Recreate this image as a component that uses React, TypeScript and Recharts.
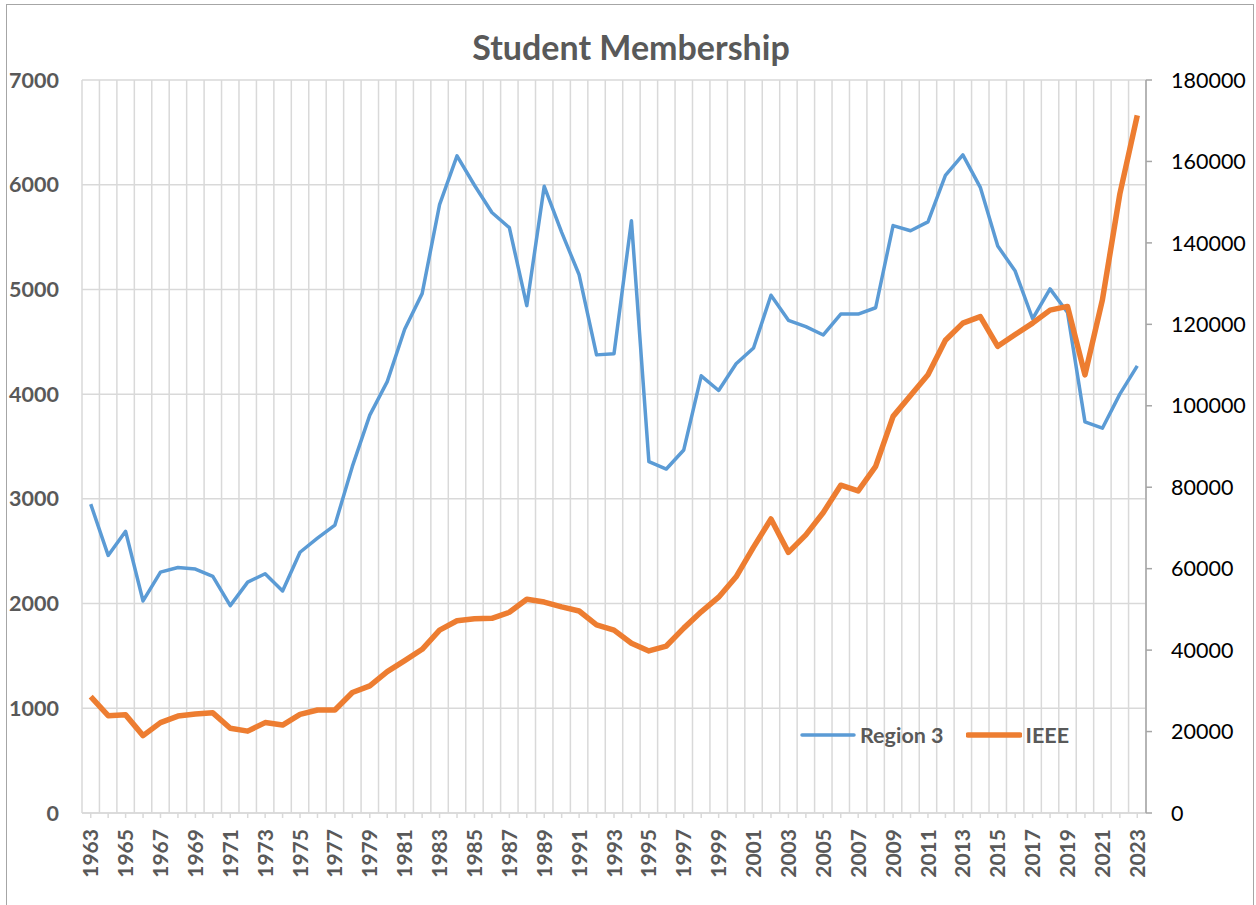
import React from "react";
import {
  LineChart,
  Line,
  XAxis,
  YAxis,
  CartesianGrid,
  Legend,
} from "recharts";

// years 1963..2023
const years = Array.from({ length: 61 }, (_, i) => 1963 + i);

const region3 = [
  2950, 2460, 2690, 2025, 2300, 2345, 2330, 2260, 1980, 2205, // 1963-1972
  2285, 2120, 2490, 2625, 2750, 3310, 3800, 4120, 4620, 4960, // 1973-1982
  5810, 6275, 5995, 5735, 5590, 4845, 5985, 5545, 5140, 4375, // 1983-1992
  4385, 5655, 3355, 3285, 3467, 4175, 4035, 4290, 4440, 4945, // 1993-2002
  4705, 4645, 4565, 4765, 4765, 4825, 5610, 5560, 5645, 6090, // 2003-2012
  6285, 5975, 5415, 5175, 4720, 5005, 4780, 3735, 3675, 4000, // 2013-2022
  4270, // 2023
];

const ieee = [
  28600, 23900, 24100, 19000, 22200, 23800, 24300, 24600, 20800, 20100,
  22200, 21600, 24200, 25300, 25300, 29600, 31200, 34700, 37400, 40200,
  44900, 47200, 47700, 47800, 49300, 52500, 51800, 50600, 49600, 46200,
  44900, 41700, 39800, 41000, 45400, 49400, 53000, 58000, 65300, 72200,
  64000, 68300, 73800, 80500, 79100, 85100, 97400, 102500, 107600, 116100,
  120300, 121900, 114600, 117500, 120300, 123500, 124400, 107600, 126000, 152000,
  171300,
];

const leftTicks = [0, 1000, 2000, 3000, 4000, 5000, 6000, 7000];
const rightTicks = [0, 20000, 40000, 60000, 80000, 100000, 120000, 140000, 160000, 180000];
const boundaryTicks = [...years.map((y) => y - 0.5), years[years.length - 1] + 0.5];

const data = years.map((year, i) => ({ year, region3: region3[i], ieee: ieee[i] }));

const FONT = "Lato, 'Open Sans', sans-serif";
const GRAY = "#595959";
const BLUE = "#5B9BD5";
const ORANGE = "#ED7D31";

function YearTick({ x, y, payload }: any) {
  if (payload.value % 2 === 0) return null;
  return (
    <text
      x={x}
      y={y}
      transform={`rotate(-90, ${x}, ${y})`}
      textAnchor="end"
      dy="0.36em"
      fill={GRAY}
      fontFamily={FONT}
      fontWeight={700}
      fontSize={21}
    >
      {payload.value}
    </text>
  );
}

function EmptyTick() {
  return null;
}

function renderLegend() {
  const item = (color: string, width: number, label: string, gap: number) => (
    <div style={{ display: "flex", alignItems: "center", marginRight: gap }}>
      <svg width={56} height={10} style={{ marginRight: 4 }}>
        <line x1={2} y1={5} x2={54} y2={5} stroke={color} strokeWidth={width} strokeLinecap="round" />
      </svg>
      <span>{label}</span>
    </div>
  );
  return (
    <div
      style={{
        display: "flex",
        fontFamily: FONT,
        fontWeight: 700,
        fontSize: 21.5,
        color: GRAY,
      }}
    >
      {item(BLUE, 3.5, "Region 3", 22)}
      {item(ORANGE, 5.5, "IEEE", 0)}
    </div>
  );
}

export default function App() {
  return (
    <div
      style={{
        position: "absolute",
        left: 0,
        top: 0,
        width: 1256,
        height: 905,
        background: "#fff",
        overflow: "hidden",
      }}
    >
      <div
        style={{
          position: "absolute",
          left: 6,
          top: 4,
          width: 1248,
          height: 940,
          border: "1px solid #a6a6a6",
          boxSizing: "border-box",
        }}
      />
      <div
        style={{
          position: "absolute",
          left: 0,
          width: 1262,
          top: 26,
          textAlign: "center",
          fontFamily: FONT,
          fontWeight: 700,
          fontSize: 34,
          color: GRAY,
        }}
      >
        Student Membership
      </div>
      <div style={{ position: "absolute", left: 0, top: 0 }}>
        <LineChart
          width={1256}
          height={905}
          data={data}
          margin={{ top: 80, right: 10, bottom: 10, left: 12 }}
        >
          <CartesianGrid
            stroke="#d9d9d9"
            strokeWidth={1.5}
            xAxisId="bounds"
            yAxisId="left"
          />
          <XAxis
            xAxisId="bounds"
            type="number"
            dataKey="year"
            domain={[1962.5, 2023.5]}
            allowDataOverflow
            ticks={boundaryTicks}
            interval={0}
            height={0}
            axisLine={false}
            tickLine={{ stroke: "#d9d9d9", strokeWidth: 1.5 }}
            tickSize={8}
            tick={<EmptyTick />}
          />
          <XAxis
            xAxisId="main"
            type="number"
            dataKey="year"
            domain={[1962.5, 2023.5]}
            allowDataOverflow
            ticks={years}
            interval={0}
            height={82}
            axisLine={{ stroke: "#d9d9d9", strokeWidth: 1.5 }}
            tickLine={{ stroke: "#d9d9d9", strokeWidth: 1.5 }}
            tickSize={5}
            tickMargin={11}
            tick={<YearTick />}
          />
          <YAxis
            yAxisId="left"
            domain={[0, 7000]}
            ticks={leftTicks}
            width={70}
            axisLine={false}
            tickLine={false}
            tickSize={0}
            tickMargin={23}
            tick={{ fill: GRAY, fontFamily: FONT, fontWeight: 700, fontSize: 21.5 }}
          />
          <YAxis
            yAxisId="right"
            orientation="right"
            domain={[0, 180000]}
            ticks={rightTicks}
            width={100}
            axisLine={{ stroke: "#a6a6a6", strokeWidth: 1.5 }}
            tickLine={{ stroke: "#a6a6a6", strokeWidth: 1.5 }}
            tickSize={6}
            tickMargin={19}
            tick={{ fill: "#000", fontFamily: FONT, fontSize: 21.5, textAnchor: "start" }}
          />
          <Legend
            layout="vertical"
            align="center"
            verticalAlign="middle"
            content={renderLegend}
            wrapperStyle={{ left: 800, top: 722, width: 340 }}
          />
          <Line
            xAxisId="main"
            yAxisId="left"
            type="linear"
            dataKey="region3"
            name="Region 3"
            stroke={BLUE}
            strokeWidth={3.5}
            strokeLinejoin="round"
            dot={false}
            activeDot={false}
            isAnimationActive={false}
          />
          <Line
            xAxisId="main"
            yAxisId="right"
            type="linear"
            dataKey="ieee"
            name="IEEE"
            stroke={ORANGE}
            strokeWidth={5.5}
            strokeLinejoin="round"
            dot={false}
            activeDot={false}
            isAnimationActive={false}
          />
        </LineChart>
      </div>
    </div>
  );
}
